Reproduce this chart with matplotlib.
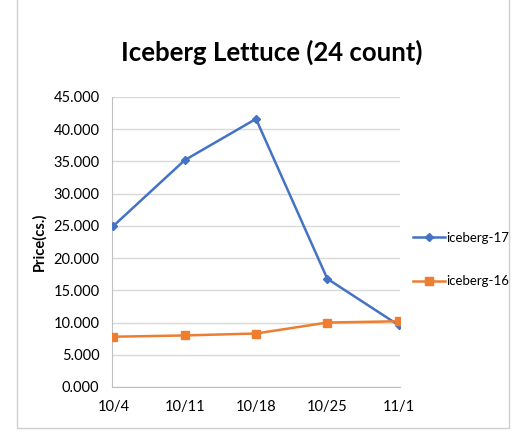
import matplotlib.pyplot as plt
from matplotlib.patches import Rectangle

plt.rcParams['font.family'] = ['Lato', 'DejaVu Sans']

weeks = ['10/4', '10/11', '10/18', '10/25', '11/1']
iceberg_17 = [25.0, 35.2, 41.6, 16.8, 9.6]
iceberg_16 = [7.8, 8.0, 8.3, 10.0, 10.2]
y_ticks = [0, 5, 10, 15, 20, 25, 30, 35, 40, 45]

fig = plt.figure(figsize=(5.18, 4.37), dpi=100)
ax = fig.add_axes([112 / 518, 1 - 387 / 437, 288 / 518, 290 / 437])

# outer chart border
fig.patches.append(Rectangle((17 / 518, 9 / 437), 492 / 518, 430 / 437,
                             transform=fig.transFigure, fill=False,
                             edgecolor='#d0d0d0', linewidth=1))

x = range(len(weeks))
ax.plot(x, iceberg_17, color='#4472c4', marker='D', markersize=4.5,
        linewidth=1.8, label='iceberg-17', zorder=3)
ax.plot(x, iceberg_16, color='#ed7d31', marker='s', markersize=6,
        linewidth=1.8, label='iceberg-16', zorder=3)

ax.set_xlim(-0.02, 4.02)
ax.set_ylim(0, 45)
ax.set_xticks(list(x))
ax.set_xticklabels(weeks, fontsize=10.5)
ax.set_yticks(y_ticks)
ax.set_yticklabels([f'{v:.3f}' for v in y_ticks], fontsize=10.5)
ax.tick_params(length=0, pad=9)
ax.grid(axis='y', color='#d9d9d9', linewidth=1)
ax.set_axisbelow(True)
for side in ['top', 'right']:
    ax.spines[side].set_visible(False)
ax.spines['left'].set_color('#bfbfbf')
ax.spines['bottom'].set_color('#bfbfbf')

ax.set_ylabel('Price(cs.)', fontsize=10.5, fontweight='bold', labelpad=5)
fig.text(272 / 518, 1 - 52 / 437, 'Iceberg Lettuce (24 count)',
         ha='center', va='center', fontsize=18.5, fontweight='bold')

ax.legend(loc='center left', bbox_to_anchor=(1.0, 0.44), frameon=False,
          fontsize=9.5, handlelength=2.4, labelspacing=2.4, handletextpad=0.1,
          borderaxespad=0.6)

fig.savefig('out.png', dpi=100)
